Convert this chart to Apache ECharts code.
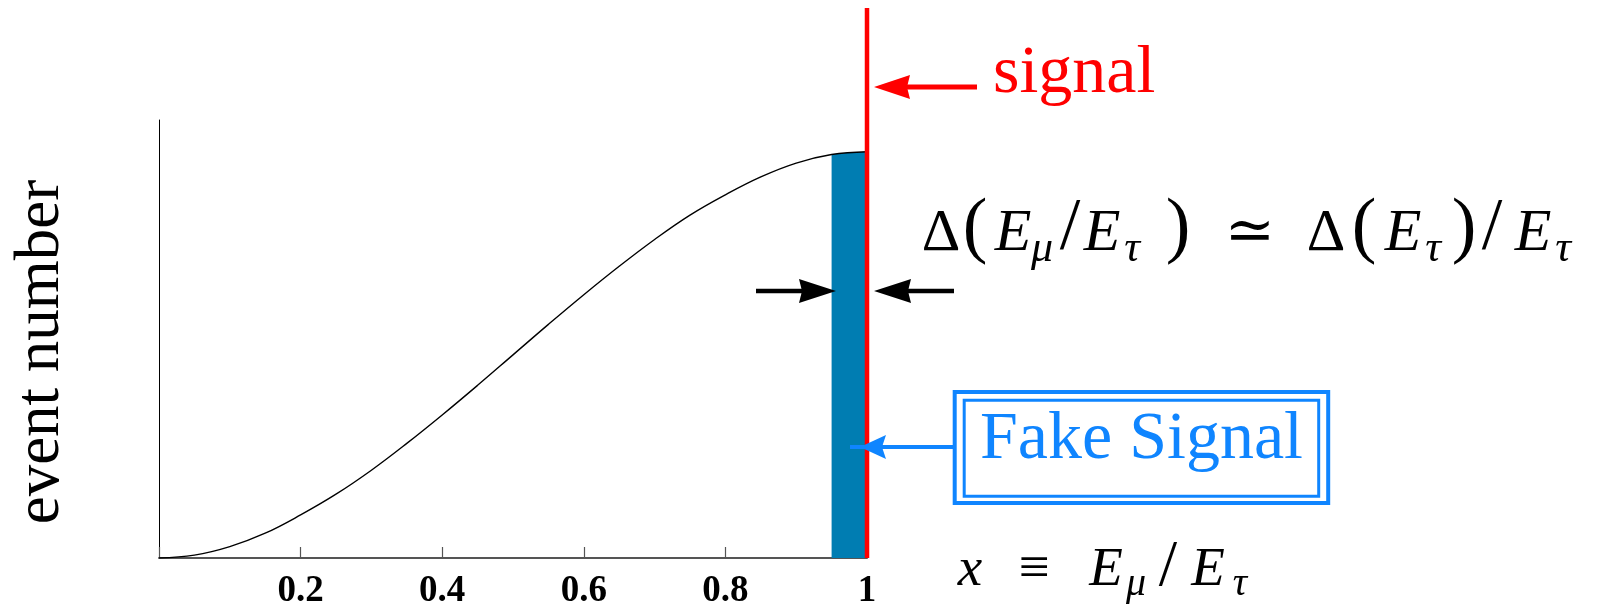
<!DOCTYPE html>
<html>
<head>
<meta charset="utf-8">
<style>
html, body { margin: 0; padding: 0; background: #fff; }
#main { width: 1600px; height: 607px; }
</style>
<script src="https://cdn.jsdelivr.net/npm/echarts@6/dist/echarts.min.js"></script>
</head>
<body>
<div id="main"></div>
<script>
var xs = [0, 0.05, 0.1, 0.15, 0.2, 0.25, 0.3, 0.35, 0.4, 0.45, 0.5,
          0.55, 0.6, 0.65, 0.7, 0.75, 0.8, 0.85, 0.9, 0.95, 1];
var events = [0, 0.007, 0.028, 0.061, 0.106, 0.157, 0.216, 0.282, 0.352, 0.425, 0.5,
              0.575, 0.648, 0.718, 0.784, 0.844, 0.894, 0.938, 0.972, 0.993, 1];
// fake signal band just below the endpoint
var bandX = [0.95, 0.975, 1];
var bandY = [0.993, 0.998, 1];
// true signal at x = 1
var signalX = [1, 1];
var signalY = [0, 1];
var xTicks = [0, 0.2, 0.4, 0.6, 0.8, 1];
var xTickLabels = ['', '0.2', '0.4', '0.6', '0.8', '1'];

var RED = '#ff0000';
var BAND = '#007db2';
var LIGHT = '#0f85ff';
var serif = '"Liberation Serif", "DejaVu Serif", serif';

function pairs(a, b) {
  var out = [];
  for (var i = 0; i < a.length; i++) out.push([a[i], b[i]]);
  return out;
}

// text placed by its baseline
function txt(s, x, base, size, color, italic, align) {
  align = align || 'left';
  return {
    type: 'text', x: x, y: base - 0.3375 * size, z: 10,
    style: {
      text: s, fill: color,
      fontSize: size, fontFamily: serif,
      fontStyle: italic ? 'italic' : 'normal',
      align: align, textAlign: align,
      verticalAlign: 'middle', textVerticalAlign: 'middle'
    }
  };
}

// tokens: [text, centre x, italic, sub, big]
function formula(tokens, base, size, subSize, drop, bigSize) {
  return tokens.map(function (t) {
    var sz = t[3] ? subSize : (t[4] ? bigSize : size);
    var b = t[3] ? base + drop : (t[4] ? base + 1 : base);
    return txt(t[0], t[1], b, sz, '#000', t[2], 'center');
  });
}

function arrow(tail, tip, y, headLen, half, width, color) {
  var dir = tip > tail ? 1 : -1;
  var base = tip - dir * headLen;
  return [
    { type: 'line', z: 10, shape: { x1: tail, y1: y, x2: base, y2: y },
      style: { stroke: color, lineWidth: width } },
    { type: 'polygon', z: 10, shape: { points: [[tip, y], [base - dir * 3, y - half], [base, y], [base - dir * 3, y + half]] },
      style: { fill: color } }
  ];
}

var f1 = [
  ['Δ', 941], ['(', 975, false, false, true], ['E', 1013, true], ['μ', 1042, true, true],
  ['/', 1070, false, false, true], ['E', 1102, true], ['τ', 1132, true, true],
  [')', 1178, false, false, true], ['≃', 1250], ['Δ', 1326], ['(', 1364, false, false, true],
  ['E', 1403, true], ['τ', 1433, true, true], [')', 1464, false, false, true],
  ['/', 1492, false, false, true], ['E', 1533, true], ['τ', 1563, true, true]
];
var f2 = [
  ['x', 970, true], ['≡', 1034], ['E', 1106, true], ['μ', 1136, true, true],
  ['/', 1168, false, false, true], ['E', 1208, true], ['τ', 1240, true, true]
];

var graphics = []
  .concat(arrow(756, 836, 291, 34, 12, 4.5, '#000'))
  .concat(arrow(954, 874, 291, 34, 12, 4.5, '#000'))
  .concat(arrow(977, 874, 87, 33, 12, 5, RED))
  .concat(formula(f1, 254, 60, 44, 10, 74))
  .concat(formula(f2, 589, 55, 40, 9, 66))
  .concat([
    txt('signal', 993, 97, 68, RED),
    txt('Fake Signal', 980, 463, 68, LIGHT),
    { type: 'line', z: 10, shape: { x1: 850, y1: 447, x2: 954, y2: 447 },
      style: { stroke: LIGHT, lineWidth: 4 } },
    { type: 'polygon', z: 10, shape: { points: [[860, 447], [886, 435], [882, 447], [886, 459]] },
      style: { fill: LIGHT } },
    { type: 'rect', z: 10, shape: { x: 954.7, y: 392, width: 373.5, height: 111 },
      style: { fill: 'none', stroke: LIGHT, lineWidth: 4 } },
    { type: 'rect', z: 10, shape: { x: 964.2, y: 400.2, width: 354.5, height: 96.1 },
      style: { fill: 'none', stroke: LIGHT, lineWidth: 3 } },
    {
      type: 'text', x: 41, y: 352, rotation: Math.PI / 2, z: 10,
      style: {
        text: 'event number', fill: '#000', fontSize: 63, fontFamily: serif,
        align: 'center', textAlign: 'center', verticalAlign: 'middle', textVerticalAlign: 'middle'
      }
    }
  ]);

var chart = echarts.init(document.getElementById('main'));
chart.setOption({
  animation: false,
  backgroundColor: '#fff',
  grid: [
    { left: 159, right: 733, top: 120, bottom: 49, containLabel: false, outerBoundsMode: 'none' },
    { left: 159, right: 733, top: 8, bottom: 49, containLabel: false, outerBoundsMode: 'none' }
  ],
  xAxis: [
    {
      type: 'value', gridIndex: 0, min: 0, max: 1, interval: 0.2,
      axisLine: { lineStyle: { color: '#555', width: 2 } },
      axisTick: { inside: true, length: 11, lineStyle: { color: '#555', width: 1.2 } },
      axisLabel: {
        margin: 15, color: '#000', fontSize: 37, fontWeight: 'bold', fontFamily: serif,
        formatter: function (v) {
          var i = xTicks.indexOf(Math.round(v * 10) / 10);
          return i < 0 ? '' : xTickLabels[i];
        }
      },
      splitLine: { show: false }
    },
    { type: 'value', gridIndex: 1, min: 0, max: 1, show: false }
  ],
  yAxis: [
    {
      type: 'value', gridIndex: 0, min: 0, max: 1.078,
      axisLine: { show: true, lineStyle: { color: '#000', width: 1 } },
      axisTick: { show: false }, axisLabel: { show: false }, splitLine: { show: false }
    },
    { type: 'value', gridIndex: 1, min: 0, max: 1, show: false }
  ],
  series: [
    {
      type: 'line', xAxisIndex: 0, yAxisIndex: 0, z: 1,
      data: pairs(bandX, bandY), showSymbol: false,
      lineStyle: { width: 0 }, areaStyle: { color: BAND, opacity: 1 }
    },
    {
      type: 'line', xAxisIndex: 0, yAxisIndex: 0, z: 2,
      data: pairs(xs, events), smooth: 0.4, showSymbol: false,
      lineStyle: { color: '#000', width: 1.4 }
    },
    {
      type: 'line', xAxisIndex: 1, yAxisIndex: 1, z: 3,
      data: pairs(signalX, signalY), showSymbol: false,
      lineStyle: { color: RED, width: 4.5 }
    }
  ],
  graphic: { elements: graphics }
});
</script>
</body>
</html>
